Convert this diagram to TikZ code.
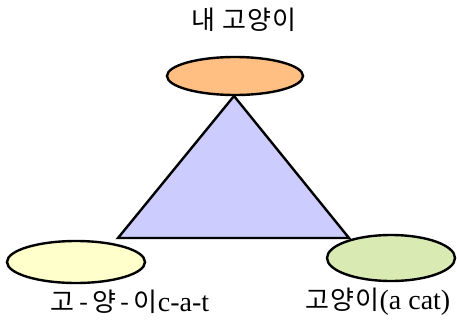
\documentclass[tikz,border=0pt]{standalone}
\usepackage{fontspec}
\setmainfont{Liberation Serif}
\newfontfamily\kr[LetterSpace=4]{Noto Sans CJK KR}
\newcommand\krt[1]{{\fontsize{26}{29}\selectfont\kr #1}}
\begin{document}
\begin{tikzpicture}[x=1pt,y=-1pt,
  lw/.style={line width=2.4pt},
  lbl/.style={font=\fontsize{28}{31}\selectfont, inner sep=0pt}]
\useasboundingbox (0,0) rectangle (457,321);
\coordinate (tA) at (234,96);
\coordinate (tL) at (118,238);
\coordinate (tR) at (349,238);
\draw[fill={rgb,255:red,204;green,204;blue,255}, lw, line join=miter] (tA) -- (tL) -- (tR) -- cycle;
\fill[fill={rgb,255:red,255;green,190;blue,130}, draw=black, lw] (235,76) ellipse [x radius=68, y radius=19];
\node (top) at (235,76) {};
\fill[fill={rgb,255:red,255;green,255;blue,204}, draw=black, lw] (76,262) ellipse [x radius=69, y radius=21];
\node (left) at (76,262) {};
\fill[fill={rgb,255:red,217;green,234;blue,179}, draw=black, lw] (391,258) ellipse [x radius=64, y radius=23];
\node (right) at (391,258) {};
\node[lbl] (ttop) at (244,20) {\krt{내 고양이}};
\node[lbl] (tleft) at (130,302) {\krt{고\,-\,양\,-\,이}c-a-t};
\node[lbl] (tright) at (378,302) {\krt{고양이}(a cat)};
\end{tikzpicture}
\end{document}
